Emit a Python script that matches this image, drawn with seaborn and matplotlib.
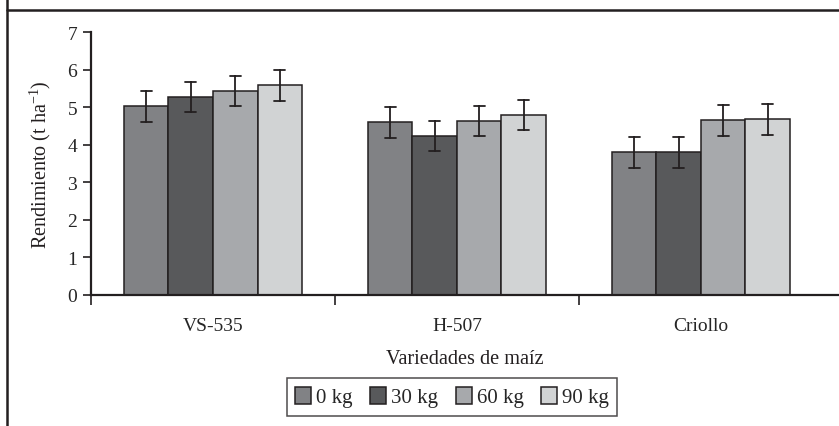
import pandas as pd
import numpy as np
import matplotlib.pyplot as plt
import seaborn as sns
from matplotlib.lines import Line2D

# data
variedades = ['VS-535', 'H-507', 'Criollo']
dosis = ['0 kg', '30 kg', '60 kg', '90 kg']
rend_0 = [5.02, 4.60, 3.80]
rend_30 = [5.27, 4.23, 3.80]
rend_60 = [5.43, 4.63, 4.65]
rend_90 = [5.58, 4.79, 4.68]
err_0 = [0.41, 0.41, 0.41]
err_30 = [0.41, 0.41, 0.41]
err_60 = [0.40, 0.41, 0.41]
err_90 = [0.41, 0.41, 0.41]
colores = ['#818285', '#58595B', '#A7A9AC', '#D1D3D4']

sns.set_style('white')
plt.rcParams['font.family'] = ['Liberation Serif', 'DejaVu Serif']
plt.rcParams['mathtext.fontset'] = 'custom'
plt.rcParams['mathtext.rm'] = 'Liberation Serif'
plt.rcParams['mathtext.it'] = 'Liberation Serif:italic'

# two rows per bar (mean - err, mean + err) so the bar height is the mean
# and the min/max interval gives the error bar
rows = []
for d, vals, errs in zip(dosis, [rend_0, rend_30, rend_60, rend_90], [err_0, err_30, err_60, err_90]):
    for v, val, e in zip(variedades, vals, errs):
        rows.append({'variedad': v, 'dosis': d, 'rend': val - e})
        rows.append({'variedad': v, 'dosis': d, 'rend': val + e})
df = pd.DataFrame(rows)

fig = plt.figure(figsize=(8.39, 4.27), dpi=100)
ax = fig.add_axes([0.1085, 0.3068, 0.8915, 0.6159])

sns.barplot(data=df, x='variedad', y='rend', hue='dosis', order=variedades, hue_order=dosis,
            palette=colores, width=0.73, saturation=1,
            errorbar=lambda x: (x.min(), x.max()), capsize=0.18,
            err_kws={'color': '#231F20', 'linewidth': 1.3},
            edgecolor='#231F20', linewidth=1.1, ax=ax)

ax.set_ylim(0, 7)
ax.set_xlim(-0.5, 2.566)
ax.set_yticks(range(0, 8))
ax.tick_params(axis='y', direction='out', length=6, width=1.2, color='#231F20',
               labelsize=14, pad=4, left=True)
ax.set_xticks([-0.5, 0.5, 1.5])
ax.set_xticklabels([])
ax.tick_params(axis='x', which='major', direction='out', length=7, width=1.2, color='#231F20', bottom=True)
ax.set_xticks([0, 1, 2], minor=True)
ax.set_xticklabels(variedades, minor=True)
ax.tick_params(axis='x', which='minor', length=0, labelsize=14, pad=16)

for s in ['top', 'right']:
    ax.spines[s].set_visible(False)
for s in ['left', 'bottom']:
    ax.spines[s].set_color('#231F20')
    ax.spines[s].set_linewidth(1.6)
ax.grid(False)

ax.set_xlabel('Variedades de maíz', fontsize=14.6, labelpad=11, color='#231F20')
ax.set_ylabel('Rendimiento (t ha$^{-1}$)', fontsize=14.5, labelpad=10, color='#231F20')

ax.get_legend().remove()
handles, labels = ax.get_legend_handles_labels()
leg = fig.legend(handles, labels, loc='center', bbox_to_anchor=(0.539, 0.068), ncol=4,
                 fontsize=15, frameon=True, fancybox=False, edgecolor='#231F20',
                 handlelength=0.75, handleheight=0.9, handletextpad=0.25, columnspacing=0.85,
                 borderpad=0.4)
leg.get_frame().set_linewidth(1.1)

# page frame lines
fig.add_artist(Line2D([0.008, 1.0], [0.974, 0.974], color='#231F20', linewidth=1.8))
fig.add_artist(Line2D([0.008, 0.008], [0.0, 1.0], color='#231F20', linewidth=1.8))

fig.savefig('out.png', dpi=100)
